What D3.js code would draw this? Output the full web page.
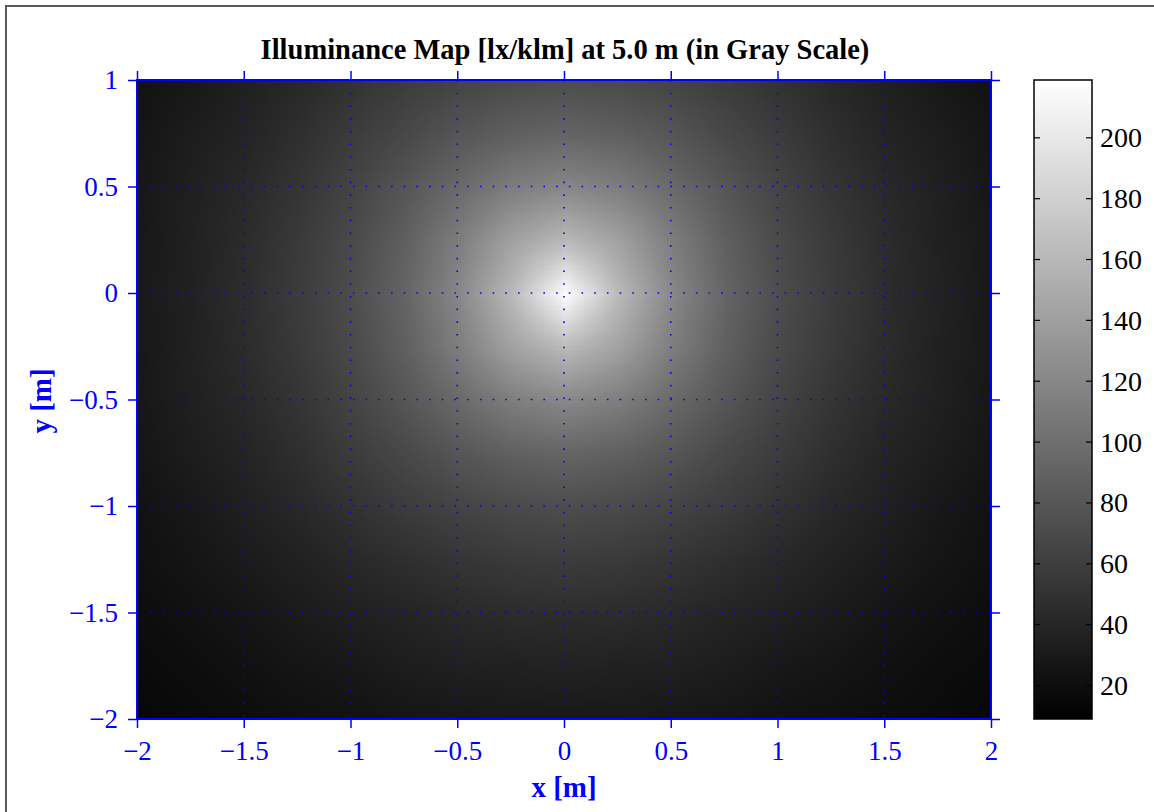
<!DOCTYPE html>
<html>
<head>
<meta charset="utf-8">
<script src="https://cdn.jsdelivr.net/npm/d3@7"></script>
<style>
  body { margin: 0; background: #fff; }
  svg { display: block; }
  text { font-family: "Liberation Serif", "Times New Roman", serif; }
</style>
</head>
<body>
<svg id="chart" width="1154" height="812"></svg>
<script>
// grid nodes of the illuminance map [m]
const xNodes = [-2, -1.75, -1.5, -1.25, -1, -0.75, -0.5, -0.25, 0, 0.25, 0.5, 0.75, 1, 1.25, 1.5, 1.75, 2];
const yNodes = [1, 0.75, 0.5, 0.25, 0, -0.25, -0.5, -0.75, -1, -1.25, -1.5, -1.75, -2];

// illuminance [lx/klm], one row per yNodes entry
const illum = [
  [24, 29, 35, 42, 50, 58, 65, 70, 72, 70, 65, 58, 50, 42, 35, 29, 24],
  [26, 33, 39, 48, 58, 68, 80, 88, 92, 88, 80, 68, 58, 48, 39, 33, 26],
  [28, 35, 43, 53, 65, 80, 96, 113, 121, 113, 96, 80, 65, 53, 43, 35, 28],
  [29, 36, 45, 57, 70, 88, 113, 142, 162, 142, 113, 88, 70, 57, 45, 36, 29],
  [29, 37, 46, 58, 72, 92, 121, 162, 218, 162, 121, 92, 72, 58, 46, 37, 29],
  [29, 36, 45, 57, 70, 88, 113, 142, 162, 142, 113, 88, 70, 57, 45, 36, 29],
  [28, 35, 43, 53, 65, 80, 96, 113, 121, 113, 96, 80, 65, 53, 43, 35, 28],
  [26, 33, 39, 48, 58, 68, 80, 88, 92, 88, 80, 68, 58, 48, 39, 33, 26],
  [24, 29, 35, 42, 50, 58, 65, 70, 72, 70, 65, 58, 50, 42, 35, 29, 24],
  [22, 26, 31, 36, 42, 48, 53, 57, 58, 57, 53, 48, 42, 36, 31, 26, 22],
  [20, 23, 26, 31, 35, 39, 43, 45, 46, 45, 43, 39, 35, 31, 26, 23, 20],
  [18, 20, 23, 26, 29, 33, 35, 36, 37, 36, 35, 33, 29, 26, 23, 20, 18],
  [15, 18, 20, 22, 24, 26, 28, 29, 29, 29, 28, 26, 24, 22, 20, 18, 15]
];

const xTicks = [-2, -1.5, -1, -0.5, 0, 0.5, 1, 1.5, 2];
const yTicks = [-2, -1.5, -1, -0.5, 0, 0.5, 1];
const cbTicks = [20, 40, 60, 80, 100, 120, 140, 160, 180, 200];
const cLimits = [9, 219];

const svg = d3.select('#chart');
const blue = '#0000ff';

// figure frame (partly cut off)
svg.append('rect')
  .attr('x', 6).attr('y', 6).attr('width', 1300).attr('height', 1000)
  .attr('fill', 'none').attr('stroke', '#5a5a5a').attr('stroke-width', 2);

const x = d3.scaleLinear().domain([-2, 2]).range([137, 991]);
const y = d3.scaleLinear().domain([-2, 1]).range([719, 80]);
const gray = d3.scaleLinear().domain(cLimits).range(['#000000', '#ffffff']).clamp(true);

// map as a tiny bitmap, smoothed by the browser when it is scaled up
const cv = document.createElement('canvas');
cv.width = xNodes.length;
cv.height = yNodes.length;
const ctx = cv.getContext('2d');
illum.forEach((row, j) => {
  row.forEach((v, i) => {
    ctx.fillStyle = gray(v);
    ctx.fillRect(i, j, 1, 1);
  });
});

const dx = (xNodes[1] - xNodes[0]) / 2;
const dy = (yNodes[0] - yNodes[1]) / 2;

svg.append('clipPath').attr('id', 'plotClip')
  .append('rect')
  .attr('x', x(-2)).attr('y', y(1))
  .attr('width', x(2) - x(-2)).attr('height', y(-2) - y(1));

svg.append('image')
  .attr('clip-path', 'url(#plotClip)')
  .attr('href', cv.toDataURL())
  .attr('x', x(xNodes[0] - dx))
  .attr('y', y(yNodes[0] + dy))
  .attr('width', x(xNodes[xNodes.length - 1] + dx) - x(xNodes[0] - dx))
  .attr('height', y(yNodes[yNodes.length - 1] - dy) - y(yNodes[0] + dy))
  .attr('preserveAspectRatio', 'none')
  .style('image-rendering', 'auto');

// dotted grid
const grid = svg.append('g')
  .attr('stroke', blue)
  .attr('stroke-width', 1.6)
  .attr('stroke-dasharray', '1.6,11.1');
grid.selectAll('.gx').data(xTicks.slice(1, -1)).enter().append('line')
  .attr('x1', d => x(d)).attr('x2', d => x(d))
  .attr('y1', y(1)).attr('y2', y(-2));
grid.selectAll('.gy').data(yTicks.slice(1, -1)).enter().append('line')
  .attr('x1', x(-2)).attr('x2', x(2))
  .attr('y1', d => y(d)).attr('y2', d => y(d));

// axes, ticks pointing outwards on all four sides
const fmt = d3.format('~g');
function styleAxis(g) {
  g.select('.domain').remove();
  g.selectAll('.tick line').attr('stroke', blue).attr('stroke-width', 1.5);
  g.selectAll('.tick text').attr('fill', blue).style('font-size', '27px');
}

svg.append('g')
  .attr('transform', `translate(0,${y(-2)})`)
  .call(d3.axisBottom(x).tickValues(xTicks).tickFormat(fmt).tickSize(9).tickPadding(13))
  .call(styleAxis);
svg.append('g')
  .attr('transform', `translate(0,${y(1)})`)
  .call(d3.axisTop(x).tickValues(xTicks).tickFormat('').tickSize(9))
  .call(styleAxis);
svg.append('g')
  .attr('transform', `translate(${x(-2)},0)`)
  .call(d3.axisLeft(y).tickValues(yTicks).tickFormat(fmt).tickSize(9).tickPadding(10))
  .call(styleAxis);
svg.append('g')
  .attr('transform', `translate(${x(2)},0)`)
  .call(d3.axisRight(y).tickValues(yTicks).tickFormat('').tickSize(9))
  .call(styleAxis);

svg.append('rect')
  .attr('x', x(-2)).attr('y', y(1))
  .attr('width', x(2) - x(-2)).attr('height', y(-2) - y(1))
  .attr('fill', 'none').attr('stroke', blue).attr('stroke-width', 2);

// colour bar
const cb = { x: 1034, w: 58 };
const cy = d3.scaleLinear().domain(cLimits).range([719, 80]);
const grad = svg.append('defs').append('linearGradient')
  .attr('id', 'cbGrad').attr('x1', 0).attr('y1', 1).attr('x2', 0).attr('y2', 0);
grad.append('stop').attr('offset', 0).attr('stop-color', gray(cLimits[0]));
grad.append('stop').attr('offset', 1).attr('stop-color', gray(cLimits[1]));

svg.append('rect')
  .attr('x', cb.x).attr('y', cy(cLimits[1]))
  .attr('width', cb.w).attr('height', cy(cLimits[0]) - cy(cLimits[1]))
  .attr('fill', 'url(#cbGrad)');

const cbAxis = svg.append('g');
cbAxis.selectAll('.tl').data(cbTicks).enter().append('line')
  .attr('x1', cb.x).attr('x2', cb.x + 6)
  .attr('y1', d => cy(d)).attr('y2', d => cy(d))
  .attr('stroke', '#000').attr('stroke-width', 1.2);
cbAxis.selectAll('.tr').data(cbTicks).enter().append('line')
  .attr('x1', cb.x + cb.w - 6).attr('x2', cb.x + cb.w)
  .attr('y1', d => cy(d)).attr('y2', d => cy(d))
  .attr('stroke', '#000').attr('stroke-width', 1.2);
cbAxis.selectAll('text').data(cbTicks).enter().append('text')
  .attr('x', cb.x + cb.w + 8)
  .attr('y', d => cy(d))
  .attr('dy', '0.34em')
  .style('font-size', '28px')
  .text(d => d);

svg.append('rect')
  .attr('x', cb.x).attr('y', cy(cLimits[1]))
  .attr('width', cb.w).attr('height', cy(cLimits[0]) - cy(cLimits[1]))
  .attr('fill', 'none').attr('stroke', '#000').attr('stroke-width', 1.5);

// labels
svg.append('text')
  .attr('x', 565).attr('y', 59)
  .attr('text-anchor', 'middle')
  .style('font-size', '28.5px').style('font-weight', 'bold')
  .text('Illuminance Map [lx/klm] at 5.0 m (in Gray Scale)');

svg.append('text')
  .attr('x', 564).attr('y', 797)
  .attr('text-anchor', 'middle')
  .attr('fill', blue)
  .style('font-size', '29px').style('font-weight', 'bold')
  .text('x [m]');

svg.append('text')
  .attr('transform', 'translate(51,401) rotate(-90)')
  .attr('text-anchor', 'middle')
  .attr('fill', blue)
  .style('font-size', '29px').style('font-weight', 'bold')
  .text('y [m]');
</script>
</body>
</html>
